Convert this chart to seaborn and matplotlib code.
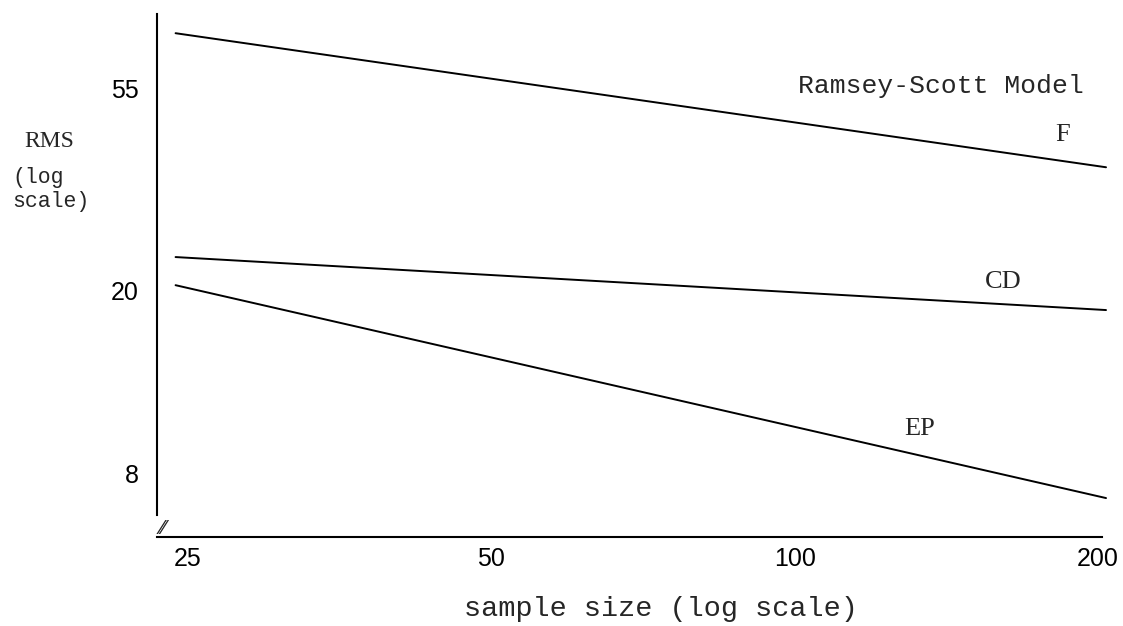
import matplotlib
matplotlib.use("Agg")
import matplotlib.pyplot as plt
import seaborn as sns
import pandas as pd

# ---- data ----
sample_size = [24.3, 203.7]
rms_F = [72.4, 37.0]
rms_CD = [23.6, 18.1]
rms_EP = [20.5, 7.06]
series_names = ["F", "CD", "EP"]
x_ticks = [25, 50, 100, 200]
y_ticks = [8, 20, 55]

df = pd.DataFrame({
    "n": sample_size * 3,
    "rms": rms_F + rms_CD + rms_EP,
    "model": [s for s in series_names for _ in sample_size],
})

sns.set_style("white")
plt.rcParams["font.family"] = ["Liberation Sans", "DejaVu Sans"]

fig = plt.figure(figsize=(11.23, 6.26), dpi=100)
ax = fig.add_axes([0.1398, 0.1422, 0.9866 - 0.1398, 0.9776 - 0.1422])

sns.lineplot(data=df, x="n", y="rms", hue="model", units="model",
             estimator=None, palette=["black"] * 3, linewidth=1.4,
             legend=False, ax=ax)

ax.set_xscale("log")
ax.set_yscale("log")
ax.set_xlim(23.29, 204.6)
ax.set_ylim(5.81, 79.7)

ax.set_xticks(x_ticks)
ax.set_xticklabels([str(t) for t in x_ticks])
ax.set_yticks(y_ticks)
ax.set_yticklabels([str(t) for t in y_ticks])
ax.minorticks_off()
ax.tick_params(axis="both", which="major", labelsize=18, length=4, width=1.5,
               direction="in", colors="black", pad=7)
ax.tick_params(axis="y", pad=13)

for side in ["top", "right"]:
    ax.spines[side].set_visible(False)
for side in ["left", "bottom"]:
    ax.spines[side].set_color("black")
    ax.spines[side].set_linewidth(1.5)
ax.spines["bottom"].set_bounds(23.29, 201.8)
ax.spines["left"].set_bounds(6.48, 79.7)

ax.set_xlabel("sample size (log scale)", family="Liberation Mono", fontsize=20.5,
              va="center")
ax.xaxis.set_label_coords(0.530, -0.1377)
ax.set_ylabel("")

# left axis title, stacked
fig.text(49 / 1123, 1 - 142 / 626, "RMS", family="Liberation Serif", fontsize=17,
         ha="center", va="center")
fig.text(12 / 1123, 1 - 177 / 626, "(log", family="Liberation Mono", fontsize=15.5,
         ha="left", va="center")
fig.text(12 / 1123, 1 - 202 / 626, "scale)", family="Liberation Mono", fontsize=15.5,
         ha="left", va="center")

# title-like annotation
fig.text(941 / 1123, 1 - 86 / 626, "Ramsey-Scott Model", family="Liberation Mono",
         fontsize=19, ha="center", va="center")

# series labels
label_pos = {"F": (1063, 135), "CD": (1003, 282), "EP": (920, 429)}
for name in series_names:
    px, py = label_pos[name]
    fig.text(px / 1123, 1 - py / 626, name, family="Liberation Serif",
             fontsize=19, ha="center", va="center")

# axis break mark
fig.text(163 / 1123, 1 - 528 / 626, "\u2044\u2044", family="DejaVu Sans",
         fontsize=14, ha="center", va="center")

fig.savefig("out.png", dpi=100)
